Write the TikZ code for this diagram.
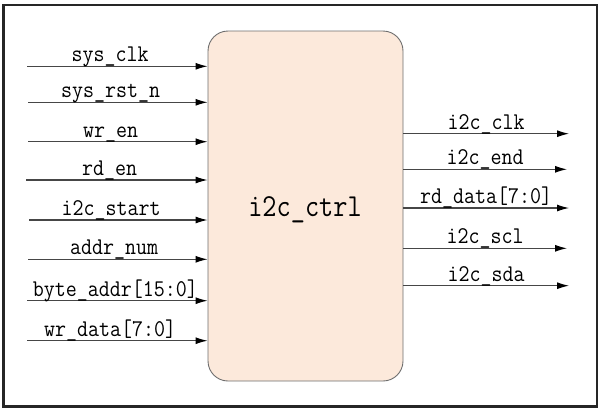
\documentclass[tikz,border=0pt]{standalone}
\usepackage{fontspec}
\newfontfamily\sigfont[FakeStretch=0.89]{Latin Modern Mono}
\newfontfamily\titlefont[FakeStretch=0.86]{Latin Modern Mono}
\usetikzlibrary{arrows.meta}
\definecolor{boxfill}{RGB}{252,233,219}
\definecolor{boxline}{RGB}{110,110,110}
\definecolor{sigline}{RGB}{70,70,70}
\begin{document}
\begin{tikzpicture}[x=1pt,y=-1pt,
  sig/.style={draw=sigline, line width=1.1pt, -{Latex[length=12pt,width=7pt,color=black]}},
  lbl/.style={font=\sigfont\fontsize{24}{28}\selectfont, anchor=base, inner sep=0pt, yshift=4.5pt},
  ctrlbox/.style={draw=boxline, fill=boxfill, line width=0.9pt, rounded corners=20pt,
    minimum width=195pt, minimum height=350pt, inner sep=0pt}]
\useasboundingbox (0,0) rectangle (601,410);
\draw[line width=2.4pt, black!85] (3.5,5) rectangle (597,406.5);
\node[ctrlbox] (ctrl) at (305.5,206) {};
\node[font=\titlefont\fontsize{32}{36}\selectfont, anchor=base, inner sep=0pt] (title) at (305,216) {i2c\_ctrl};
% inputs
\coordinate (i1) at (27,66.3);
\coordinate (i2) at (28,102.3);
\coordinate (i3) at (28,141.7);
\coordinate (i4) at (26,180);
\coordinate (i5) at (29,220);
\coordinate (i6) at (28,259.3);
\coordinate (i7) at (27,300.7);
\coordinate (i8) at (27,340.7);
\draw[sig] (i1) -- node[lbl, pos=0.46] (l1) {sys\_clk} (i1 -| ctrl.west);
\draw[sig] (i2) -- node[lbl, pos=0.46] (l2) {sys\_rst\_n} (i2 -| ctrl.west);
\draw[sig] (i3) -- node[lbl, pos=0.46] (l3) {wr\_en} (i3 -| ctrl.west);
\draw[sig] (i4) -- node[lbl, pos=0.46] (l4) {rd\_en} (i4 -| ctrl.west);
\draw[sig] (i5) -- node[lbl, pos=0.46] (l5) {i2c\_start} (i5 -| ctrl.west);
\draw[sig] (i6) -- node[lbl, pos=0.48] (l6) {addr\_num} (i6 -| ctrl.west);
\draw[sig] (i7) -- node[lbl, pos=0.49] (l7) {byte\_addr[15:0]} (i7 -| ctrl.west);
\draw[sig] (i8) -- node[lbl, pos=0.46] (l8) {wr\_data[7:0]} (i8 -| ctrl.west);
% outputs
\coordinate (o1) at (569,133.7);
\coordinate (o2) at (567,169.3);
\coordinate (o3) at (569,208);
\coordinate (o4) at (567,248.3);
\coordinate (o5) at (569,285.7);
\draw[sig] (o1 -| ctrl.east) -- node[lbl] (m1) {i2c\_clk} (o1);
\draw[sig] (o2 -| ctrl.east) -- node[lbl] (m2) {i2c\_end} (o2);
\draw[sig] (o3 -| ctrl.east) -- node[lbl] (m3) {rd\_data[7:0]} (o3);
\draw[sig] (o4 -| ctrl.east) -- node[lbl] (m4) {i2c\_scl} (o4);
\draw[sig] (o5 -| ctrl.east) -- node[lbl] (m5) {i2c\_sda} (o5);
\end{tikzpicture}
\end{document}
